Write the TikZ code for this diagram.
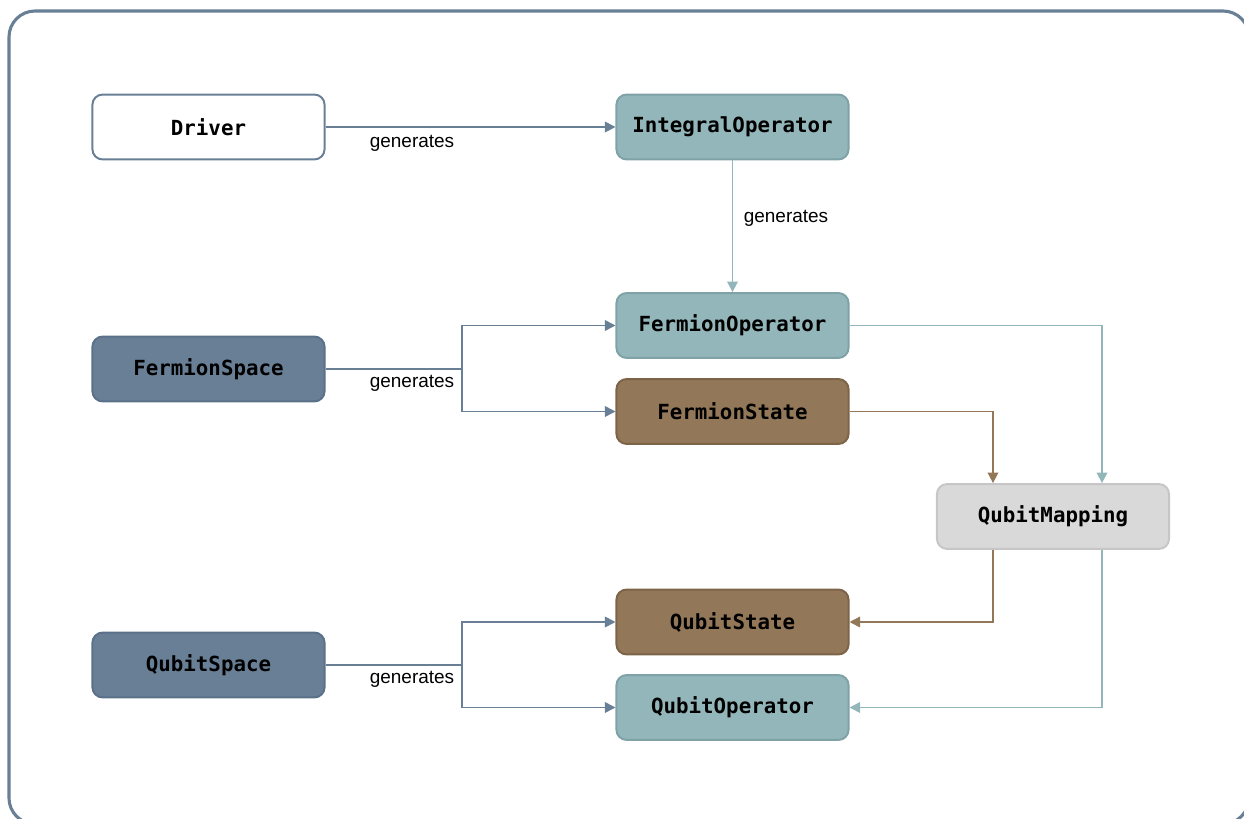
\documentclass[tikz,border=0pt]{standalone}
\usepackage{fontspec}
\setmainfont{Liberation Sans}
\setmonofont{DejaVu Sans Mono}
\usetikzlibrary{arrows.meta, positioning}
\definecolor{CSlate}{HTML}{687F96}
\definecolor{CSlateDark}{HTML}{5B7189}
\definecolor{CTeal}{HTML}{93B6BA}
\definecolor{CTealDark}{HTML}{7FA2A7}
\definecolor{CBrown}{HTML}{937759}
\definecolor{CBrownDark}{HTML}{7D6448}
\definecolor{CGrayLight}{HTML}{D9D9D9}
\definecolor{CGrayEdge}{HTML}{C6C6C6}
\tikzset{
  box/.style={rounded corners=0.25cm, line width=1.4pt, minimum width=5.8cm, minimum height=1.62cm,
    font=\ttfamily\bfseries\fontsize{14.8}{17}\selectfont, text=black},
  whitebox/.style={box, fill=white, draw=CSlate},
  slatebox/.style={box, fill=CSlate, draw=CSlateDark},
  tealbox/.style={box, fill=CTeal, draw=CTealDark},
  brownbox/.style={box, fill=CBrown, draw=CBrownDark},
  graybox/.style={box, fill=CGrayLight, draw=CGrayEdge},
  link/.style={line width=1.2pt, -{Triangle[width=7.5pt, length=7.5pt]}},
  lbl/.style={font=\fontsize{13.5}{16}\selectfont}
}

\begin{document}
\begin{tikzpicture}[x=0.025cm, y=-0.025cm]
  \clip (0,0) rectangle (1244,819);
  \useasboundingbox (0,0) rectangle (1244,819);
  % Frame
  \draw[CSlate, line width=2.2pt, rounded corners=0.65cm] (9,11) rectangle (1249,824);
  % Left column
  \node[whitebox] (Drv) at (208.5,127) {Driver};
  \node[slatebox] (FSp) at (208.5,369) {FermionSpace};
  \node[slatebox] (QSp) at (208.5,665) {QubitSpace};
  % Middle column
  \node[tealbox] (IOp) at (732.5,127) {IntegralOperator};
  \node[tealbox] (FOp) at (732.5,325.5) {FermionOperator};
  \node[brownbox] (FSt) at (732.5,411.5) {FermionState};
  \node[brownbox] (QSt) at (732.5,622) {QubitState};
  \node[tealbox] (QOp) at (732.5,707.5) {QubitOperator};
  % Mapping
  \node[graybox] (QMap) at (1053,516.5) {QubitMapping};
  % Branch points
  \coordinate (fb) at (462,369);
  \coordinate (qb) at (462,665);
  % Generates
  \draw[link, CSlate] (Drv) -- (IOp);
  \node[lbl] (g1) at (412,143) {generates};
  \draw[link, CTeal] (IOp) -- (FOp);
  \node[lbl] (g2) at (786,218) {generates};
  \draw[line width=1.2pt, CSlate] (FSp) -- (fb);
  \draw[link, CSlate] (fb) |- (FOp);
  \draw[link, CSlate] (fb) |- (FSt);
  \node[lbl] (g3) at (412,383) {generates};
  \draw[line width=1.2pt, CSlate] (QSp) -- (qb);
  \draw[link, CSlate] (qb) |- (QSt);
  \draw[link, CSlate] (qb) |- (QOp);
  \node[lbl] (g4) at (412,679) {generates};
  % Through the mapping
  \draw[link, CTeal] (FOp.east) -| ([xshift=1.225cm]QMap.north);
  \draw[link, CBrown] (FSt.east) -| ([xshift=-1.5cm]QMap.north);
  \draw[link, CBrown] ([xshift=-1.5cm]QMap.south) |- (QSt.east);
  \draw[link, CTeal] ([xshift=1.225cm]QMap.south) |- (QOp.east);
\end{tikzpicture}
\end{document}
